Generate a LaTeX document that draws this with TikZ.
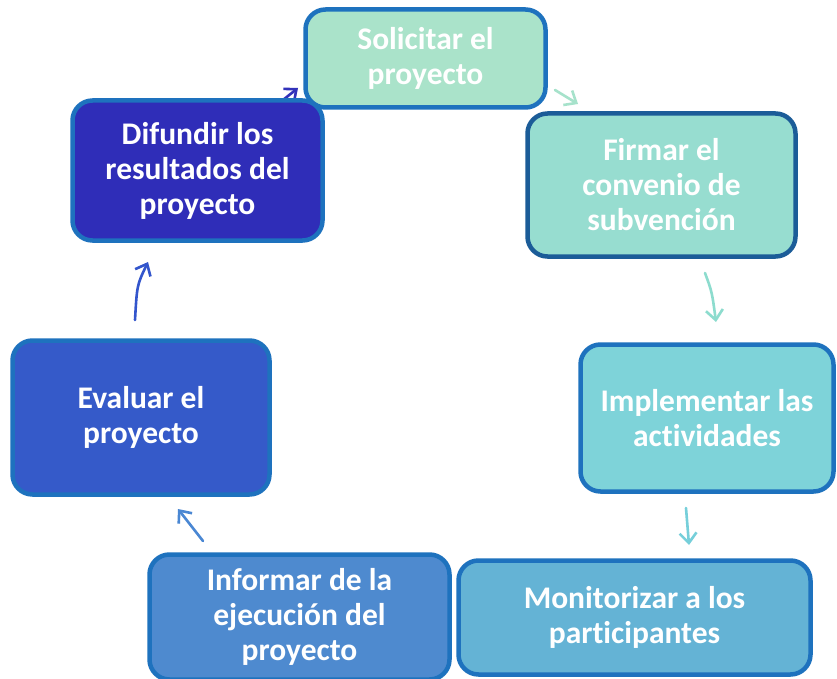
\documentclass[tikz,border=0pt]{standalone}
\usepackage{fontspec}
\setmainfont[Ligatures=NoCommon]{Carlito}
\usetikzlibrary{arrows.meta}
\definecolor{bordblue}{HTML}{1E72BE}
\definecolor{borddark}{HTML}{1B5C98}
\definecolor{cSol}{HTML}{AAE3CA}
\definecolor{cFir}{HTML}{97DDD0}
\definecolor{cImp}{HTML}{7ED3D9}
\definecolor{cMon}{HTML}{64B3D5}
\definecolor{cInf}{HTML}{4E8ACF}
\definecolor{cEva}{HTML}{355AC9}
\definecolor{cDif}{HTML}{2F2DB8}
\definecolor{aA}{HTML}{A6E2CB}
\definecolor{aB}{HTML}{8DDCCE}
\definecolor{aC}{HTML}{76CFDA}
\definecolor{aD}{HTML}{4A87D3}
\definecolor{aE}{HTML}{3355CC}
\definecolor{aF}{HTML}{3232BA}
\begin{document}
\begin{tikzpicture}[x=1pt,y=-1pt,
  stepbox/.style={draw=bordblue, line width=4.5pt, rounded corners=20pt, text=white,
    font=\bfseries\fontsize{31.5}{35}\selectfont, align=center, inner sep=0pt},
  flow/.style={line width=2.6pt, line cap=round,
    -{Straight Barb[length=10pt,width=17pt,line width=2.6pt]}}]
\useasboundingbox (0,0) rectangle (837,679);
\fill[white] (0,0) rectangle (837,679);
% arrow end points
\coordinate (a12s) at (555,90);  \coordinate (a12e) at (578,104);
\coordinate (a23s) at (705,273); \coordinate (a23e) at (716,322);
\coordinate (a34s) at (686,508); \coordinate (a34e) at (689,545);
\coordinate (a56s) at (203,541); \coordinate (a56e) at (178,509);
\coordinate (a67s) at (135,320); \coordinate (a67e) at (148,262);
\coordinate (a71s) at (283,100); \coordinate (a71e) at (298,88);
\draw[flow, aA] (a12s) -- (a12e);
\draw[flow, aB] (a23s) .. controls (712,292) .. (a23e);
\draw[flow, aC] (a34s) -- (a34e);
\draw[flow, aD] (a56s) -- (a56e);
\draw[flow, aE] (a67s) .. controls (137,285) .. (a67e);
\draw[flow, aF] (a71s) -- (a71e);
% boxes
\node[stepbox, fill=cSol, minimum width=240pt, minimum height=98pt] (sol) at (425.5,58.5) {Solicitar el\\proyecto};
\node[stepbox, fill=cFir, draw=borddark, minimum width=268pt, minimum height=143pt] (fir) at (661.5,185) {Firmar el\\convenio de\\subvención};
\node[stepbox, fill=cImp, minimum width=253pt, minimum height=147pt] (imp) at (707,418) {Implementar las\\actividades};
\node[stepbox, fill=cMon, minimum width=352pt, minimum height=114pt] (mon) at (634.5,617.5) {Monitorizar a los\\participantes};
\node[stepbox, fill=cInf, minimum width=300pt, minimum height=125pt] (inf) at (299.5,617) {Informar de la\\ejecución del\\proyecto};
\node[stepbox, fill=cEva, minimum width=257pt, minimum height=154pt] (eva) at (141,417.5) {Evaluar el\\proyecto};
\node[stepbox, fill=cDif, minimum width=250pt, minimum height=140pt] (dif) at (197.5,170.5) {Difundir los\\resultados del\\proyecto};
\end{tikzpicture}
\end{document}
